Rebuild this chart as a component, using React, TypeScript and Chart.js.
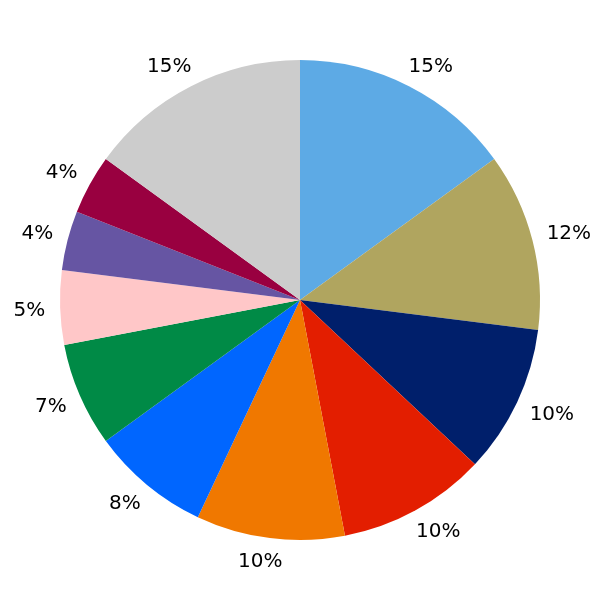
import React, { useEffect, useRef } from "react";
import { Chart, registerables } from "chart.js";

Chart.register(...registerables);

const categories = ["A", "B", "C", "D", "E", "F", "G", "H", "I", "J", "K"];
const values = [15, 12, 10, 10, 10, 8, 7, 5, 4, 4, 15];
const labels = ["15%", "12%", "10%", "10%", "10%", "8%", "7%", "5%", "4%", "4%", "15%"];
const colors = [
  "#5DAAE5",
  "#B0A55F",
  "#001F6B",
  "#E31E00",
  "#F07800",
  "#0066FF",
  "#008A46",
  "#FFC7C8",
  "#6655A3",
  "#990040",
  "#CCCCCC",
];

const labelPlugin = {
  id: "outerLabels",
  afterDatasetsDraw(chart: any) {
    const ctx = chart.ctx;
    const meta = chart.getDatasetMeta(0);
    ctx.save();
    ctx.font = "20px 'DejaVu Sans'";
    ctx.fillStyle = "#000";
    ctx.textAlign = "center";
    ctx.textBaseline = "middle";
    meta.data.forEach((arc: any, i: number) => {
      const p = arc.getProps(["x", "y", "startAngle", "endAngle", "outerRadius"], true);
      const mid = (p.startAngle + p.endAngle) / 2;
      const ux = Math.cos(mid);
      const uy = Math.sin(mid);
      const r0 = p.outerRadius + 15;
      const text = labels[i];
      const hw = ctx.measureText(text).width / 2;
      const hh = 7.5;
      const ox = Math.sign(ux) * hw * Math.sqrt(Math.abs(ux));
      const oy = Math.sign(uy) * hh * Math.sqrt(Math.abs(uy));
      const cx = p.x + ux * r0 + ox;
      const cy = p.y + uy * r0 + oy;
      ctx.fillText(text, cx, cy + 1);
    });
    ctx.restore();
  },
};

export default function App() {
  const ref = useRef<HTMLCanvasElement | null>(null);
  useEffect(() => {
    if (!ref.current) return;
    const chart = new Chart(ref.current, {
      type: "pie",
      data: {
        labels: categories,
        datasets: [
          {
            data: values,
            backgroundColor: colors,
            borderWidth: 0,
          },
        ],
      },
      options: {
        animation: false,
        responsive: false,
        layout: { padding: 60 },
        plugins: {
          legend: { display: false },
          tooltip: { enabled: false },
        },
      },
      plugins: [labelPlugin],
    });
    return () => chart.destroy();
  }, []);
  return (
    <div style={{ position: "fixed", left: 0, top: 0, width: 600, height: 600, background: "#fff" }}>
      <canvas ref={ref} width={600} height={600} style={{ width: 600, height: 600 }} />
    </div>
  );
}
